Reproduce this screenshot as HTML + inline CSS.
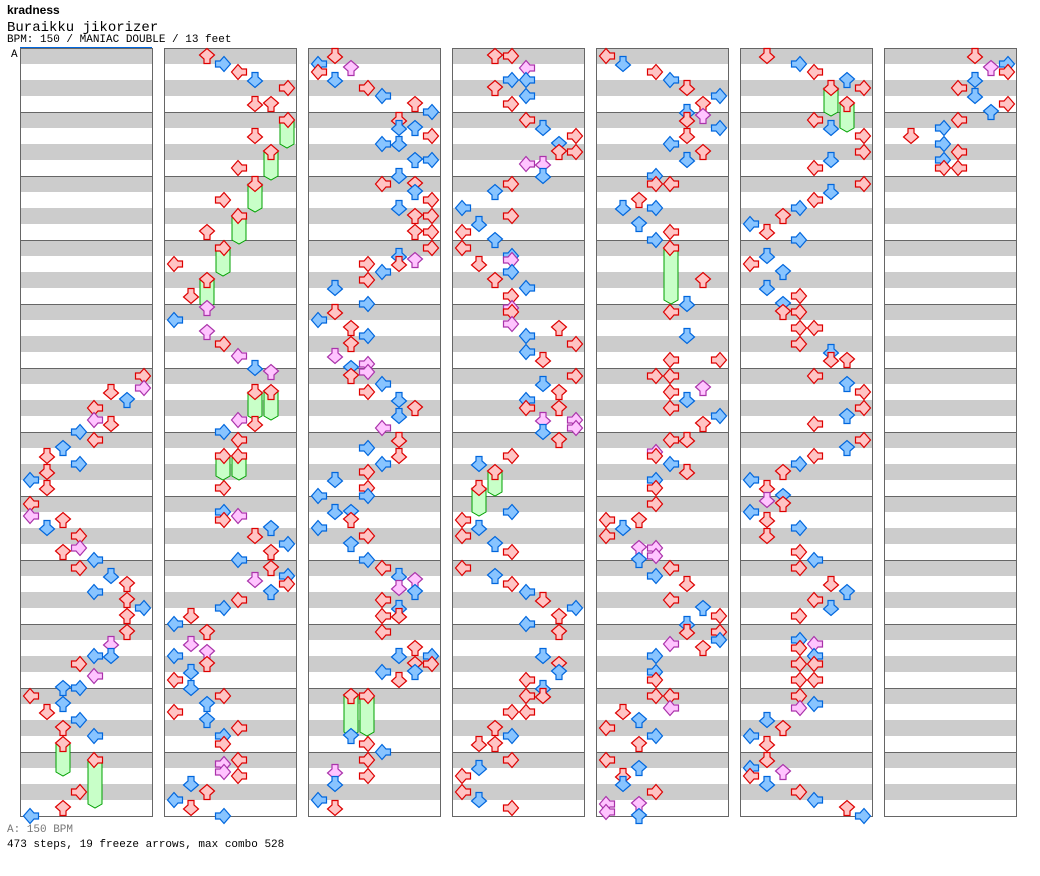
<!DOCTYPE html>
<html><head><meta charset="utf-8"><style>
body{margin:0;background:#fff;width:1040px;height:876px;overflow:hidden;font-family:"Liberation Mono",monospace;}
.t{position:absolute;white-space:nowrap;color:#000}
</style></head><body>
<div class="t" style="left:7px;top:3px;font-size:12px;font-weight:bold;font-family:'Liberation Sans',sans-serif;">kradness</div>
<div class="t" style="left:7px;top:20px;font-size:14px;">Buraikku jikorizer</div>
<div class="t" style="left:7px;top:34px;font-size:11px;">BPM: 150 / MANIAC DOUBLE / 13 feet</div>
<div class="t" style="left:7px;top:824px;font-size:11px;color:#777;">A: 150 BPM</div>
<div class="t" style="left:7px;top:839px;font-size:11px;">473 steps, 19 freeze arrows, max combo 528</div>
<svg id="chart" width="1040" height="876" style="position:absolute;left:0;top:0"></svg>
<script>
const blockCount = 7;
const measuresPerBlock = 12;
// [block, beat, lane]
const notes = [
[0,20,7],[0,20.75,7],[0,21,5],[0,21.5,6],[0,22,4],[0,22.75,4],[0,23,5],[0,23.5,3],[0,24,4],[0,24.5,2],[0,25,1],[0,25.5,3],[0,26,1],[0,26.5,0],[0,27,1],[0,28,0],[0,28.75,0],[0,29,2],[0,29.5,1],[0,30,3],[0,30.75,3],[0,31,2],[0,31.5,4],[0,32,3],[0,32.5,5],[0,33,6],[0,33.5,4],[0,34,6],[0,34.5,7],[0,35,6],[0,36,6],[0,36.75,5],[0,37.5,4],[0,37.5,5],[0,38,3],[0,38.75,4],[0,39.5,2],[0,39.5,3],[0,40,0],[0,40.5,2],[0,41,1],[0,41.5,3],[0,42,2],[0,42.5,4],[0,46,3],[0,47,2],[0,47.5,0],
[1,0,2],[1,0.5,3],[1,1,4],[1,1.5,5],[1,2,7],[1,3,5],[1,3,6],[1,5,5],[1,7,4],[1,9,3],[1,11,2],[1,13,0],[1,15,1],[1,15.75,2],[1,16.5,0],[1,17.25,2],[1,18,3],[1,18.75,4],[1,19.5,5],[1,19.75,6],[1,22.75,4],[1,23,5],[1,23.5,3],[1,24,4],[1,27,3],[1,28.5,3],[1,29,3],[1,28.75,4],[1,29.5,6],[1,30,5],[1,30.5,7],[1,31,6],[1,31.5,4],[1,32,6],[1,32.75,5],[1,32.5,7],[1,33,7],[1,33.5,6],[1,34,4],[1,34.5,3],[1,35,1],[1,35.5,0],[1,36,2],[1,36.75,1],[1,37.25,2],[1,37.5,0],[1,38,2],[1,38.5,1],[1,39,0],[1,39.5,1],[1,40,3],[1,40.5,2],[1,41,0],[1,41.5,2],[1,42,4],[1,42.5,3],[1,43,3],[1,44,4],[1,44.25,3],[1,44.75,3],[1,45,4],[1,45.5,1],[1,46,2],[1,46.5,0],[1,47,1],[1,47.5,3],
[2,0,1],[2,0.5,0],[2,0.75,2],[2,1,0],[2,1.5,1],[2,2,3],[2,2.5,4],[2,3,6],[2,3.5,7],[2,4,5],[2,4.5,5],[2,4.5,6],[2,5,7],[2,5.5,4],[2,5.5,5],[2,6.5,6],[2,6.5,7],[2,7.5,5],[2,8,4],[2,8,6],[2,8.5,6],[2,9,7],[2,9.5,5],[2,10,6],[2,10,7],[2,11,6],[2,11,7],[2,12,7],[2,12.5,5],[2,12.75,6],[2,13,5],[2,13,3],[2,13.5,4],[2,14,3],[2,14.5,1],[2,15.5,3],[2,16,1],[2,16.5,0],[2,17,2],[2,17.5,3],[2,18,2],[2,18.75,1],[2,19.25,3],[2,19.5,2],[2,19.75,3],[2,20,2],[2,20.5,4],[2,21,3],[2,21.5,5],[2,22,6],[2,22.5,5],[2,23.25,4],[2,24,5],[2,24.5,3],[2,25,5],[2,25.5,4],[2,26,3],[2,26.5,1],[2,27,3],[2,27.5,0],[2,27.5,3],[2,28.5,1],[2,28.5,2],[2,29,2],[2,29.5,0],[2,30,3],[2,30.5,2],[2,31.5,3],[2,32,4],[2,32.5,5],[2,32.75,6],[2,33.25,5],[2,33.5,6],[2,34,4],[2,34.5,5],[2,35,4],[2,35,5],[2,36,4],[2,37,6],[2,37.5,7],[2,37.5,5],[2,38,6],[2,38,7],[2,38.5,4],[2,38.5,6],[2,39,5],[2,42.5,2],[2,43,3],[2,43.5,4],[2,44,3],[2,44.75,1],[2,45,3],[2,45.5,1],[2,46.5,0],[2,47,1],
[3,0,2],[3,0,3],[3,0.75,4],[3,1.5,3],[3,1.5,4],[3,2,2],[3,2.5,4],[3,3,3],[3,4,4],[3,4.5,5],[3,5,7],[3,5.5,6],[3,6,7],[3,6,6],[3,6.75,4],[3,6.75,5],[3,7.5,5],[3,8,3],[3,8.5,2],[3,9.5,0],[3,10,3],[3,10.5,1],[3,11,0],[3,11.5,2],[3,12,0],[3,12.5,3],[3,12.75,3],[3,13,1],[3,13.5,3],[3,14,2],[3,14.5,4],[3,15,3],[3,15.75,3],[3,16,3],[3,16.75,3],[3,17,6],[3,17.5,4],[3,18,7],[3,18.5,4],[3,19,5],[3,20,7],[3,20.5,5],[3,21,6],[3,21.5,4],[3,22,4],[3,22,6],[3,22.75,5],[3,22.75,7],[3,23.25,7],[3,23.5,5],[3,24,6],[3,25,3],[3,25.5,1],[3,28.5,3],[3,29,0],[3,29.5,1],[3,30,0],[3,30.5,2],[3,31,3],[3,32,0],[3,32.5,2],[3,33,3],[3,33.5,4],[3,34,5],[3,34.5,7],[3,35,6],[3,35.5,4],[3,36,6],[3,37.5,5],[3,38,6],[3,38.5,6],[3,39,4],[3,39.5,5],[3,40,4],[3,40,5],[3,41,4],[3,41,3],[3,42,2],[3,42.5,3],[3,43,1],[3,43,2],[3,44,3],[3,44.5,1],[3,45,0],[3,46,0],[3,46.5,1],[3,47,3],
[4,0,0],[4,0.5,1],[4,1,3],[4,1.5,4],[4,2,5],[4,2.5,7],[4,3,6],[4,3.5,5],[4,3.75,6],[4,4,5],[4,4.5,7],[4,5,5],[4,5.5,4],[4,6,6],[4,6.5,5],[4,7.5,3],[4,8,3],[4,8,4],[4,9,2],[4,9.5,1],[4,9.5,3],[4,10.5,2],[4,11,4],[4,11.5,3],[4,14,6],[4,15.5,5],[4,16,4],[4,17.5,5],[4,19,4],[4,19,7],[4,20,3],[4,20,4],[4,20.75,6],[4,21,4],[4,21.5,5],[4,22,4],[4,22.5,7],[4,23,6],[4,24,4],[4,24,5],[4,24.75,3],[4,25,3],[4,25.5,4],[4,26,5],[4,26.5,3],[4,27,3],[4,28,3],[4,29,0],[4,29.5,1],[4,30,0],[4,29,2],[4,30.75,2],[4,30.75,3],[4,31.25,3],[4,31.5,2],[4,32,4],[4,32.5,3],[4,33,5],[4,34,4],[4,34.5,6],[4,35,7],[4,35.5,5],[4,36,5],[4,36,7],[4,36.5,7],[4,36.75,4],[4,37,6],[4,37.5,3],[4,38.5,3],[4,39,3],[4,40,3],[4,40,4],[4,40.75,4],[4,41,1],[4,41.5,2],[4,42,0],[4,42.5,3],[4,43,2],[4,44,0],[4,44.5,2],[4,45,1],[4,45.5,1],[4,46,3],[4,46.75,0],[4,47.25,0],[4,46.75,2],[4,47.5,2],
[5,0,1],[5,0.5,3],[5,1,4],[5,1.5,6],[5,2,7],[5,4,4],[5,4.5,5],[5,5,7],[5,6,7],[5,6.5,5],[5,7,4],[5,8,7],[5,8.5,5],[5,9,4],[5,9.5,3],[5,10,2],[5,10.5,0],[5,11,1],[5,11.5,3],[5,12.5,1],[5,13,0],[5,13.5,2],[5,14.5,1],[5,15,3],[5,15.5,2],[5,16,2],[5,16,3],[5,17,3],[5,17,4],[5,18,3],[5,18.5,5],[5,19,5],[5,19,6],[5,20,4],[5,20.5,6],[5,21,7],[5,22,7],[5,22.5,6],[5,23,4],[5,24,7],[5,24.5,6],[5,25,4],[5,25.5,3],[5,26,2],[5,26.5,0],[5,27,1],[5,27.5,2],[5,27.75,1],[5,28,2],[5,28.5,0],[5,29,1],[5,29.5,3],[5,30,1],[5,31,3],[5,31.5,4],[5,32,3],[5,33,5],[5,33.5,6],[5,34,4],[5,34.5,5],[5,35,3],[5,36.5,3],[5,36.75,4],[5,37,3],[5,37.5,4],[5,38,3],[5,38,4],[5,39,3],[5,39,4],[5,40,3],[5,40.5,4],[5,40.75,3],[5,41.5,1],[5,42,2],[5,42.5,0],[5,43,1],[5,44,1],[5,44.5,0],[5,44.75,2],[5,45,0],[5,45.5,1],[5,46,3],[5,46.5,4],[5,47,6],[5,47.5,7],
[6,0,5],[6,0.5,7],[6,0.75,6],[6,1,7],[6,1.5,5],[6,2,4],[6,2.5,5],[6,3,7],[6,3.5,6],[6,4,4],[6,4.5,3],[6,5,1],[6,5.5,3],[6,6,4],[6,6.5,3],[6,7,3],[6,7,4]
];
// [block, startBeat, endBeat, lane]
const freezes = [
[0,43,44.5,2],[0,44,46.5,4],
[1,4,5.25,7],[1,6,7.25,6],[1,8,9.25,5],[1,10,11.25,4],[1,12,13.25,3],[1,14,15.25,2],[1,21,22.25,5],[1,21,22.25,6],[1,25,26,3],[1,25,26,4],
[2,40,42,2],[2,40,42,3],
[3,26,27,2],[3,27,28.25,1],
[4,12,15,4],
[5,2,3.25,5],[5,3,4.25,6]
];
const svg=document.getElementById('chart');
const NS='http://www.w3.org/2000/svg';
const TOP=48, BEAT=16, BX0=20, BSTEP=144, BW=132;
const xOf=(b,l)=>BX0+11+BSTEP*b+16*l;
const yOf=(beat)=>TOP+8+BEAT*beat;
function mk(tag,attrs){const e=document.createElementNS(NS,tag);for(const k in attrs)e.setAttribute(k,attrs[k]);svg.appendChild(e);return e;}
for(let b=0;b<blockCount;b++){
  const x=BX0+BSTEP*b;
  const g=document.createElementNS(NS,'g');
  
  
  svg.appendChild(g);
  for(let i=0;i<measuresPerBlock*4;i+=2){
    const r=document.createElementNS(NS,'rect');
    r.setAttribute('x',x);r.setAttribute('y',TOP+i*BEAT);r.setAttribute('width',BW);r.setAttribute('height',BEAT);r.setAttribute('fill','#cccccc');
    
    
    g.appendChild(r);
  }
  for(let m=1;m<measuresPerBlock;m++){
    const l=document.createElementNS(NS,'line');
    l.setAttribute('x1',x);l.setAttribute('x2',x+BW);l.setAttribute('y1',TOP+m*64+0.5);l.setAttribute('y2',TOP+m*64+0.5);l.setAttribute('stroke','#666');
    
    
    g.appendChild(l);
  }
  const bx=document.createElementNS(NS,'rect');
  bx.setAttribute('x',x+0.5);bx.setAttribute('y',TOP+0.5);bx.setAttribute('width',BW);bx.setAttribute('height',measuresPerBlock*64);bx.setAttribute('fill','none');bx.setAttribute('stroke','#666');
  
  
  g.appendChild(bx);
}
const ul=mk('line',{x1:20,x2:152,y1:47.5,y2:47.5,stroke:'#0066dd'});


const at=mk('text',{x:11,y:57,'font-size':11,'font-family':'Liberation Mono, monospace'});
at.textContent='A';


const ARROW='M5,0.5 H11 V5 L15.5,9 L8,15.5 L0.5,9 L5,5 Z';
const ROT=[90,0,180,-90];
function arrow(b,beat,lane,fill,stroke){
  const x=xOf(b,lane),y=yOf(beat);
  const p=mk('path',{d:ARROW,fill:fill,stroke:stroke,'stroke-width':1.2,
    transform:`translate(${x-8},${y-8}) rotate(${ROT[lane%4]},8,8)`});
  
  
}
function colorOf(beat){const f=beat-Math.floor(beat);
  if(f===0) return ['#ffc4c4','#dd0000'];
  if(f===0.5) return ['#88c4ff','#0066dd'];
  return ['#ffc4ff','#aa33aa'];}
freezes.forEach(([b,s,e,l])=>{
  const x=xOf(b,l),y1=yOf(s),y2=yOf(e);
  const r=mk('path',{d:`M${x-7},${y1} H${x+7} V${y2+4} L${x},${y2+8} L${x-7},${y2+4} Z`,fill:'#c8ffc8',stroke:'#00a000'});
  
  
  arrow(b,s,l,'#ffc4c4','#dd0000');
});
notes.forEach(([b,beat,l])=>{const c=colorOf(beat);arrow(b,beat,l,c[0],c[1]);});
</script>
</body></html>
